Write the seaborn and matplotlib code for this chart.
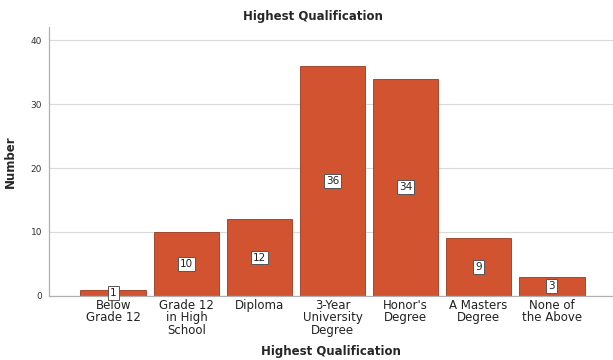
import matplotlib
matplotlib.use("Agg")
import matplotlib.pyplot as plt
import seaborn as sns
import pandas as pd

categories = ["Below\nGrade 12", "Grade 12\nin High\nSchool", "Diploma", "3-Year\nUniversity\nDegree",
              "Honor's\nDegree", "A Masters\nDegree", "None of\nthe Above"]
counts = [1, 10, 12, 36, 34, 9, 3]
y_ticks = [0, 10, 20, 30, 40]

df = pd.DataFrame({"qual": categories, "n": counts})

sns.set_theme(style="white")
plt.rcParams["font.family"] = ["DejaVu Sans"]

fig = plt.figure(figsize=(6.13, 3.6), dpi=100)
ax = fig.add_axes([0.080, 0.178, 0.920, 0.746])

bar_color = "#D2532F"
sns.barplot(data=df, x="qual", y="n", color=bar_color, width=0.9,
            edgecolor="#9a3a20", linewidth=0.6, saturation=1, ax=ax, zorder=2)

ax.set_xlim(-0.88, 6.84)
ax.set_ylim(0, 42)
ax.set_yticks(y_ticks)
ax.set_yticklabels([str(t) for t in y_ticks], fontsize=6.5, color="#333333")
ax.tick_params(axis="y", length=0, pad=5)
ax.tick_params(axis="x", length=0, pad=2, labelsize=8.5, labelcolor="#222222")
for lbl in ax.get_xticklabels():
    lbl.set_linespacing(0.95)

ax.yaxis.grid(True, color="#d9d9d9", linewidth=0.8, zorder=0)
ax.set_axisbelow(True)
for side in ["top", "right"]:
    ax.spines[side].set_visible(False)
ax.spines["left"].set_color("#b0b0b0")
ax.spines["left"].set_linewidth(0.9)
ax.spines["bottom"].set_color("#b0b0b0")
ax.spines["bottom"].set_linewidth(0.9)

for i, v in enumerate(counts):
    ax.text(i, v / 2, str(v), ha="center", va="center", fontsize=7.5, color="#222222", zorder=4,
            bbox=dict(boxstyle="square,pad=0.18", facecolor="white", edgecolor="#555555", linewidth=0.7))

ax.set_xlabel("Highest Qualification", fontsize=8.5, fontweight="bold", labelpad=6)
ax.set_ylabel("Number", fontsize=8.5, fontweight="bold", labelpad=10)
fig.text(0.51, 0.955, "Highest Qualification", ha="center", va="center", fontsize=8.5, fontweight="bold")

fig.savefig("out.png", dpi=100)
